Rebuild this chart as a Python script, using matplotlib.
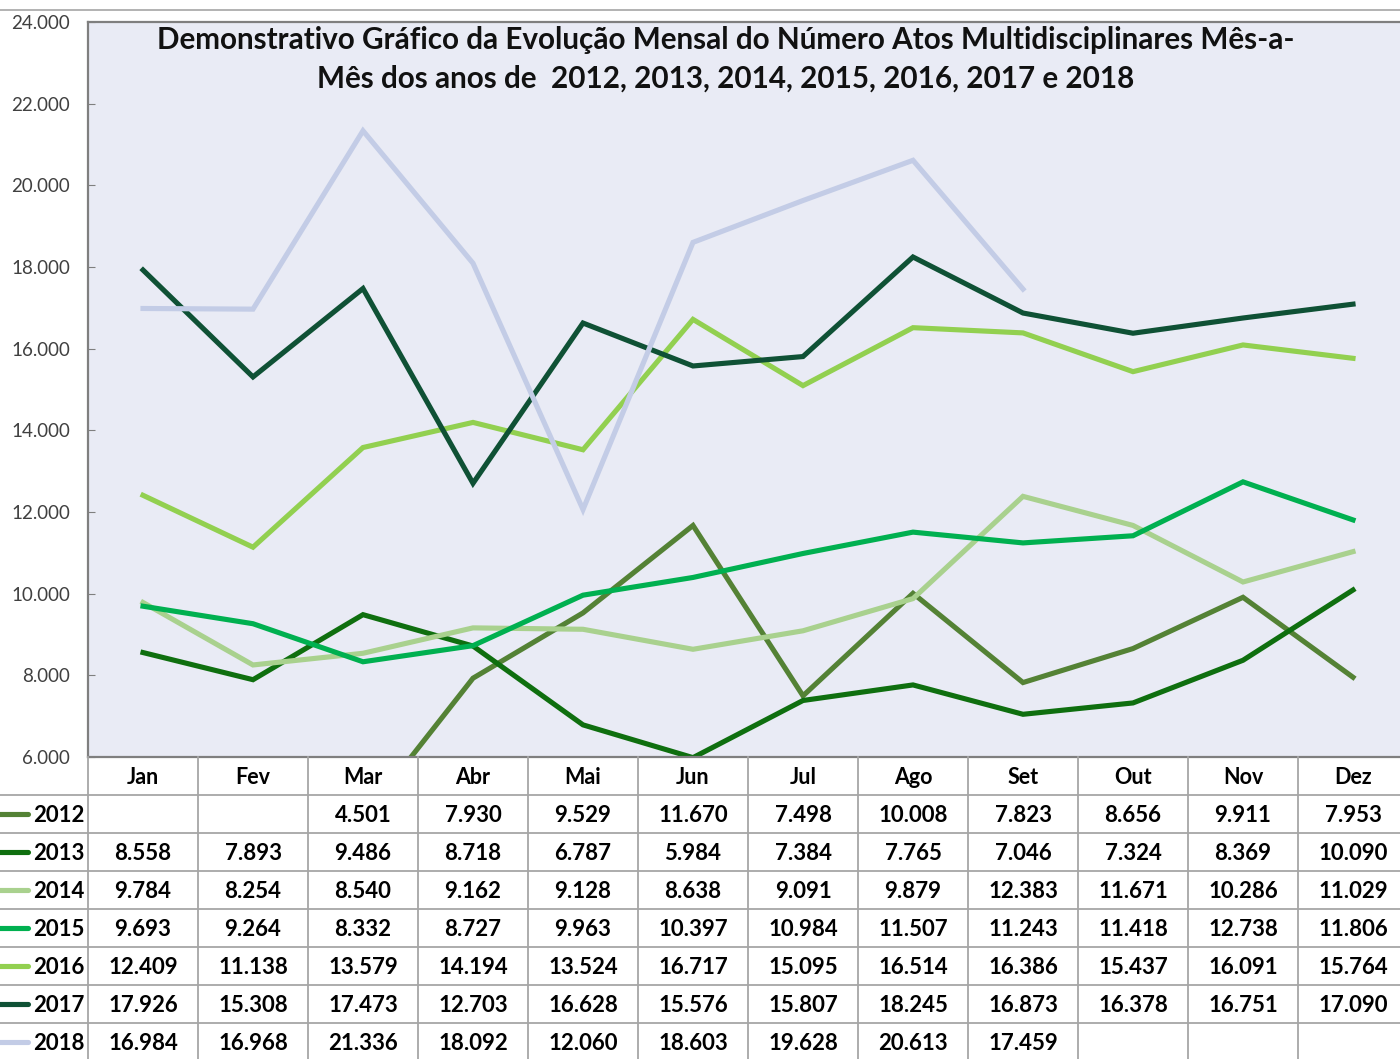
import numpy as np
import matplotlib.pyplot as plt
from matplotlib.lines import Line2D

plt.rcParams['font.family'] = ['Lato', 'DejaVu Sans']

months = ['Jan', 'Fev', 'Mar', 'Abr', 'Mai', 'Jun', 'Jul', 'Ago', 'Set', 'Out', 'Nov', 'Dez']
years = ['2012', '2013', '2014', '2015', '2016', '2017', '2018']
nan = np.nan
v2012 = [nan, nan, 4501, 7930, 9529, 11670, 7498, 10008, 7823, 8656, 9911, 7953]
v2013 = [8558, 7893, 9486, 8718, 6787, 5984, 7384, 7765, 7046, 7324, 8369, 10090]
v2014 = [9784, 8254, 8540, 9162, 9128, 8638, 9091, 9879, 12383, 11671, 10286, 11029]
v2015 = [9693, 9264, 8332, 8727, 9963, 10397, 10984, 11507, 11243, 11418, 12738, 11806]
v2016 = [12409, 11138, 13579, 14194, 13524, 16717, 15095, 16514, 16386, 15437, 16091, 15764]
v2017 = [17926, 15308, 17473, 12703, 16628, 15576, 15807, 18245, 16873, 16378, 16751, 17090]
v2018 = [16984, 16968, 21336, 18092, 12060, 18603, 19628, 20613, 17459, nan, nan, nan]
series = [v2012, v2013, v2014, v2015, v2016, v2017, v2018]
colors = ['#548235', '#0f6f0f', '#a9d18e', '#00b050', '#92d050', '#0f5135', '#c3cce6']

title = ('Demonstrativo Gráfico da Evolução Mensal do Número Atos Multidisciplinares Mês-a-\n'
         'Mês dos anos de  2012, 2013, 2014, 2015, 2016, 2017 e 2018')

W, H = 1400, 1059
fig = plt.figure(figsize=(W / 100, H / 100), dpi=100)

def fmt(v):
    return '' if np.isnan(v) else f'{v:,.0f}'.replace(',', '.')

# chart area
ax = fig.add_axes([88 / W, 1 - 757 / H, 1320 / W, 735 / H])
ax.set_facecolor('#e9ebf5')
x = np.arange(len(months))
for vals, c in zip(series, colors):
    ax.plot(x, vals, color=c, lw=3.7, solid_joinstyle='miter')
ax.set_xlim(-0.5, 11.5)
ax.set_ylim(6000, 24000)
ax.set_xticks([])
yt = np.arange(6000, 24001, 2000)
ax.set_yticks(yt)
ax.set_yticklabels([fmt(v) for v in yt], fontsize=13.5, color='#404040')
ax.tick_params(axis='y', direction='in', length=5, color='#7f7f7f', pad=13)
for s in ax.spines.values():
    s.set_color('#7f7f7f')
    s.set_linewidth(1.6)

fig.text(726 / W, 1 - 26 / H, title, ha='center', va='top', fontsize=21.3,
         fontweight='bold', linespacing=1.45, color='#111111')
fig.add_artist(Line2D([0, 1], [1 - 10 / H] * 2, color='#a6a6a6', lw=1.2))

# data table under the chart
tax = fig.add_axes([88 / W, 1 - 1061 / H, 1320 / W, 304 / H])
tax.set_xlim(-0.5, 11.5)
tax.set_ylim(8, 0)
tax.axis('off')
grid = '#a6a6a6'
for k in range(13):
    tax.plot([k - 0.5, k - 0.5], [0, 8], color=grid, lw=1.3, clip_on=False)
for r in range(1, 8):
    tax.plot([-1.3, 11.5], [r, r], color=grid, lw=1.3, clip_on=False)
for i, m in enumerate(months):
    tax.text(i, 0.53, m, ha='center', va='center', fontsize=15.5, fontweight='bold')
for r, (yr, vals, c) in enumerate(zip(years, series, colors)):
    yc = r + 1.55
    tax.plot([-1.32, -1.05], [yc - 0.05, yc - 0.05], color=c, lw=3.7,
             solid_capstyle='round', clip_on=False)
    tax.text(-1.0, yc, yr, ha='left', va='center', fontsize=16, fontweight='bold', clip_on=False)
    for i, v in enumerate(vals):
        tax.text(i, yc, fmt(v), ha='center', va='center', fontsize=16, fontweight='bold')

fig.savefig('out.png', dpi=100)
